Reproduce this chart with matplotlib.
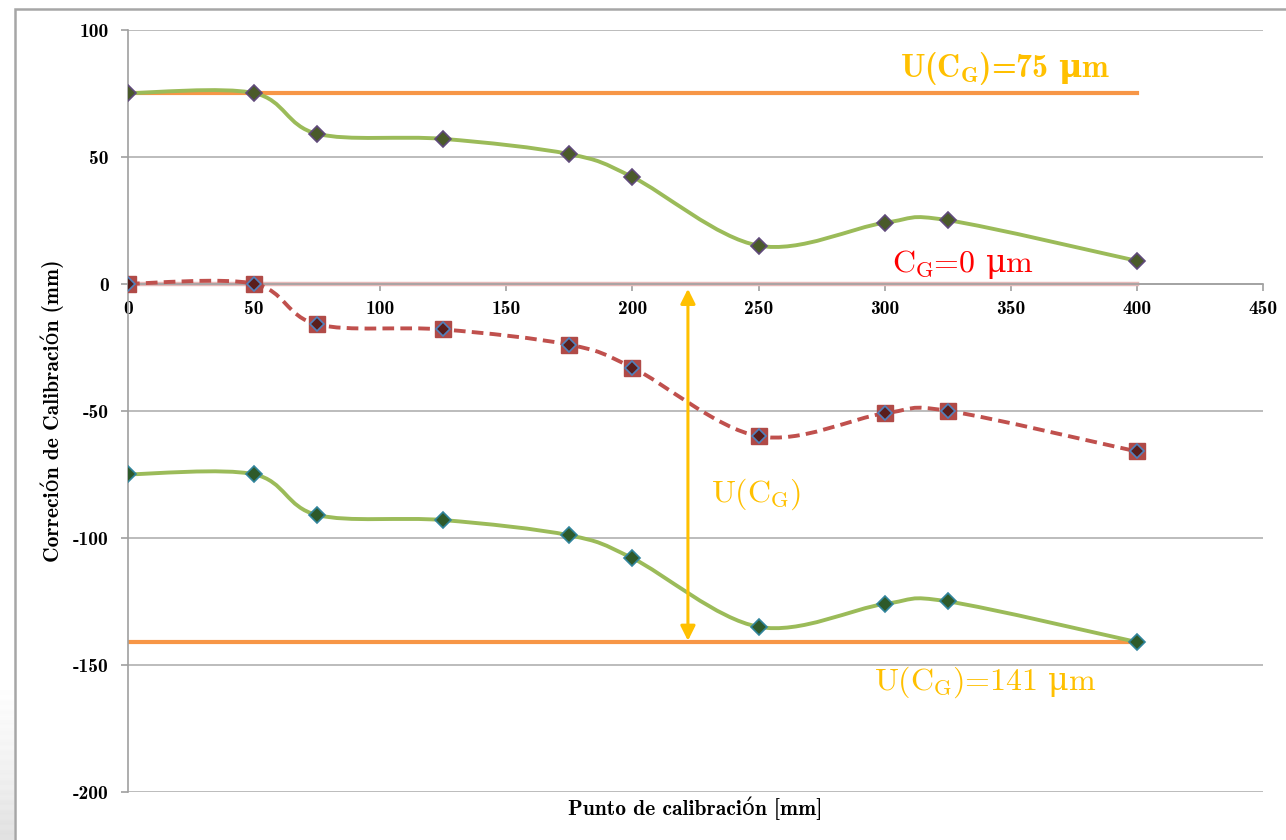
import numpy as np
import matplotlib.pyplot as plt
from matplotlib.path import Path
from matplotlib.patches import PathPatch, Rectangle

serif = ['cmr10', 'DejaVu Serif']
bold = ['cmb10', 'DejaVu Serif']

plt.rcParams['font.family'] = bold
plt.rcParams['axes.unicode_minus'] = False
# computer modern for letters, dejavu serif for the upright mu
plt.rcParams['mathtext.fontset'] = 'custom'
plt.rcParams['mathtext.rm'] = 'cmr10'
plt.rcParams['mathtext.bf'] = 'cmb10'
plt.rcParams['mathtext.it'] = 'DejaVu Serif'
plt.rcParams['mathtext.sf'] = 'DejaVu Serif:bold'

# calibration points [mm] and corrections
punto = [0, 50, 75, 125, 175, 200, 250, 300, 325, 400]
sup = [75, 75, 59, 57, 51, 42, 15, 24, 25, 9]
corr = [0, 0, -16, -18, -24, -33, -60, -51, -50, -66]
inf = [-75, -75, -91, -93, -99, -108, -135, -126, -125, -141]

u_sup = 75
u_inf = -141
x_fin = 400
x_flecha = 222

xticks = [0, 50, 100, 150, 200, 250, 300, 350, 400, 450]
yticks = [-200, -150, -100, -50, 0, 50, 100]


def suave(x, y):
    # smoothed line through the points (bezier, catmull-rom style)
    x = np.asarray(x, float)
    y = np.asarray(y, float)
    pts = np.column_stack([x, y])
    n = len(pts)
    verts = [pts[0]]
    codes = [Path.MOVETO]
    for i in range(n - 1):
        p0 = pts[max(i - 1, 0)]
        p1 = pts[i]
        p2 = pts[i + 1]
        p3 = pts[min(i + 2, n - 1)]
        c1 = p1 + (p2 - p0) / 6.0
        c2 = p2 - (p3 - p1) / 6.0
        verts += [c1, c2, p2]
        codes += [Path.CURVE4] * 3
    return Path(verts, codes)


fig = plt.figure(figsize=(12.86, 8.40), dpi=100)
ax = fig.add_axes([128 / 1286, 1 - 792 / 840, (1263 - 128) / 1286, (792 - 29.6) / 840])

ax.set_xlim(0, 450)
ax.set_ylim(-200, 100)
ax.set_xticks(xticks)
ax.set_yticks(yticks)
ax.grid(axis='y', color='#B0B0B0', lw=1.2)
ax.set_axisbelow(True)

for s in ['top', 'right']:
    ax.spines[s].set_visible(False)
ax.spines['bottom'].set_position(('data', 0))
ax.spines['bottom'].set_color('#A0A0A0')
ax.spines['left'].set_color('#A0A0A0')
ax.spines['bottom'].set_linewidth(1.2)
ax.spines['left'].set_linewidth(1.2)
ax.tick_params(axis='both', colors='#A0A0A0', length=5, width=1.2,
               labelcolor='black', labelsize=14)
ax.tick_params(axis='x', pad=7)
ax.tick_params(axis='y', pad=9)

# reference lines
ax.plot([0, x_fin], [u_sup, u_sup], color='#F79646', lw=3, zorder=2)
ax.plot([0, x_fin], [u_inf, u_inf], color='#F79646', lw=3, zorder=2)
ax.plot([0, x_fin], [0, 0], color='#E6B9B8', lw=3.2, zorder=2)

# curves
ax.add_patch(PathPatch(suave(punto, sup), fill=False, color='#9BBB59', lw=2.8, zorder=3))
ax.add_patch(PathPatch(suave(punto, inf), fill=False, color='#9BBB59', lw=2.8, zorder=3))
ax.add_patch(PathPatch(suave(punto, corr), fill=False, color='#C0504D', lw=2.8,
                       linestyle=(0, (3, 1.6)), zorder=3))

ax.plot(punto, sup, 'D', ms=8, mfc='#4A5A2A', mec='#604A7B', mew=1.2, zorder=5)
ax.plot(punto, corr, 's', ms=11, mfc='#B04A47', mec='#B04A47', zorder=5)
ax.plot(punto, corr, 'D', ms=7.5, mfc='#5A1E1C', mec='#4F81BD', mew=1.2, zorder=6)
ax.plot(punto, inf, 'D', ms=8, mfc='#2E5A2A', mec='#31859C', mew=1.2, zorder=5)

# uncertainty arrow
ax.annotate('', xy=(x_flecha, u_inf + 0.5), xytext=(x_flecha, -2),
            arrowprops=dict(arrowstyle='<|-|>', color='#FFC000', lw=2.2,
                            mutation_scale=22, shrinkA=0, shrinkB=0), zorder=7)

ax.text(348, 77.5, r'U(C$_{\mathbf{G}}$)=75 $\mathsf{\mu}$m', color='#FFC000', fontsize=23,
        family=bold, ha='center', va='bottom')
ax.text(331, 1, r'C$_{\rm G}$=0 $\mu$m', color='#FF0000', fontsize=23,
        family=serif, ha='center', va='bottom')
ax.text(340, -157, r'U(C$_{\rm G}$)=141 $\mu$m', color='#FFC000', fontsize=23,
        family=serif, ha='center', va='center')
ax.text(231, -83, r'U(C$_{\rm G}$)', color='#FFC000', fontsize=23,
        family=serif, ha='left', va='center')

ax.set_xlabel('Punto de calibración [mm]', family=bold, fontsize=15.5)
ax.xaxis.set_label_coords(0.5, -0.006)
ax.set_ylabel('Correción de Calibración (mm)', family=bold, fontsize=15.5)
ax.yaxis.set_label_coords(-0.056, 0.5)

# outer frame and shaded strip on the left edge
fig.add_artist(Rectangle((15 / 1286, -0.1), 1.2, 1.1 - 9 / 840, transform=fig.transFigure,
                         fill=False, edgecolor='#A6A6A6', lw=1.8))
sombra = fig.add_axes([0, 0, 14 / 1286, 150 / 840])
grad = np.linspace(0, 1, 60)[:, None] * np.ones((1, 4))
grad = grad + 0.08 * (np.arange(60)[:, None] % 4 < 2)
sombra.imshow(grad, cmap='Greys', vmin=0, vmax=5, aspect='auto', origin='upper')
sombra.axis('off')

fig.savefig('out.png', dpi=100)
